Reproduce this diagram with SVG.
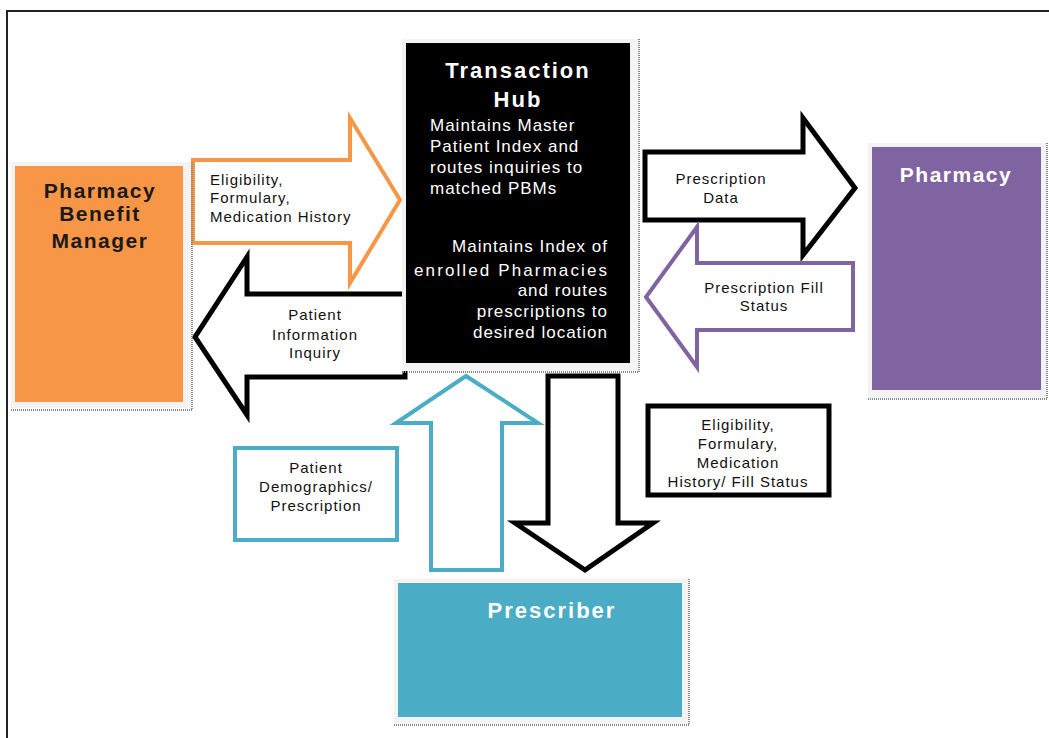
<svg xmlns="http://www.w3.org/2000/svg" width="1049" height="738" viewBox="0 0 1049 738">
<style>
  text { font-family: "Liberation Sans", Arial, sans-serif; }
  .title { font-weight: bold; font-size: 21px; letter-spacing: 1.5px; text-anchor: middle; }
  .lbl { font-size: 15px; letter-spacing: 1px; fill: #111; }
  .hub { font-size: 17px; letter-spacing: 1px; fill: #fff; }
  .shadow { fill: none; stroke: #888; stroke-width: 2; stroke-dasharray: 1 1; }
  .arrow { fill: #fff; stroke-linejoin: miter; }
</style>
<rect x="0" y="0" width="1049" height="738" fill="#fff"/>
<path d="M7,738 V11 H1049" fill="none" stroke="#222" stroke-width="2"/>

<g id="connectors">
  <path class="arrow" d="M193,160 H350 V118 L400,200 L350,283 V243 H193 Z" stroke="#F79646" stroke-width="4"/>
  <path class="arrow" d="M405,294 H247 V257 L195,337 L247,415 V377 H405 Z" stroke="#000" stroke-width="5"/>
  <path class="arrow" d="M645,152 H803 V118 L855,188 L803,255 V220 H645 Z" stroke="#000" stroke-width="5"/>
  <path class="arrow" d="M853,263 H697 V227 L646,297 L697,367 V330 H853 Z" stroke="#8064A2" stroke-width="4"/>
  <path class="arrow" d="M431,570 V423 H396 L466,376 L538,423 H502 V570 Z" stroke="#4BACC6" stroke-width="4"/>
  <path class="arrow" d="M548,376 H618 V523 H653 L585,570 L515,523 H548 Z" stroke="#000" stroke-width="5"/>
  <text class="lbl" x="210" y="185">Eligibility,</text>
  <text class="lbl" x="210" y="203">Formulary,</text>
  <text class="lbl" x="210" y="222">Medication History</text>
  <text class="lbl" x="315" y="320" text-anchor="middle">Patient</text>
  <text class="lbl" x="315" y="340" text-anchor="middle">Information</text>
  <text class="lbl" x="315" y="358" text-anchor="middle">Inquiry</text>
  <text class="lbl" x="721" y="184" text-anchor="middle">Prescription</text>
  <text class="lbl" x="721" y="203" text-anchor="middle">Data</text>
  <text class="lbl" x="764" y="293" text-anchor="middle">Prescription Fill</text>
  <text class="lbl" x="764" y="311" text-anchor="middle">Status</text>
  <g id="label-demographics">
    <rect x="235" y="448" width="162" height="92" fill="#fff" stroke="#4BACC6" stroke-width="4"/>
    <text class="lbl" x="316" y="473" text-anchor="middle">Patient</text>
    <text class="lbl" x="316" y="492" text-anchor="middle">Demographics/</text>
    <text class="lbl" x="316" y="511" text-anchor="middle">Prescription</text>
  </g>
  <g id="label-eligibility">
    <rect x="648" y="406" width="181" height="89" fill="#fff" stroke="#000" stroke-width="5"/>
    <text class="lbl" x="738" y="430" text-anchor="middle">Eligibility,</text>
    <text class="lbl" x="738" y="449" text-anchor="middle">Formulary,</text>
    <text class="lbl" x="738" y="468" text-anchor="middle">Medication</text>
    <text class="lbl" x="738" y="487" text-anchor="middle">History/ Fill Status</text>
  </g>
</g>

<g id="pbm">
  <rect x="11" y="162" width="180" height="246" fill="#f3f3f3"/>
  <path class="shadow" d="M192,162 V410 H10"/>
  <rect x="15" y="166" width="168" height="236" fill="#F79646"/>
  <text class="title" x="100" y="198" fill="#1a1a1a">Pharmacy</text>
  <text class="title" x="100" y="221" fill="#1a1a1a">Benefit</text>
  <text class="title" x="100" y="248" fill="#1a1a1a">Manager</text>
</g>

<g id="hub">
  <rect x="402" y="39" width="236" height="332" fill="#f3f3f3"/>
  <path class="shadow" d="M639,39 V372 H402"/>
  <rect x="406" y="43" width="224" height="320" fill="#000"/>
  <text class="title" x="518" y="78" fill="#fff" style="font-size:22px;letter-spacing:2px">Transaction</text>
  <text class="title" x="518" y="107" fill="#fff" style="font-size:22px;letter-spacing:2px">Hub</text>
  <text class="hub" x="430" y="131">Maintains Master</text>
  <text class="hub" x="430" y="152">Patient Index and</text>
  <text class="hub" x="430" y="173">routes inquiries to</text>
  <text class="hub" x="430" y="194">matched PBMs</text>
  <text class="hub" x="608" y="252" text-anchor="end">Maintains Index of</text>
  <text class="hub" x="414" y="276" textLength="194" lengthAdjust="spacing">enrolled Pharmacies</text>
  <text class="hub" x="608" y="296" text-anchor="end">and routes</text>
  <text class="hub" x="608" y="317" text-anchor="end">prescriptions to</text>
  <text class="hub" x="608" y="338" text-anchor="end">desired location</text>
</g>

<g id="pharmacy">
  <rect x="868" y="143" width="178" height="255" fill="#f3f3f3"/>
  <path class="shadow" d="M1047,143 V399 H868"/>
  <rect x="872" y="147" width="169" height="243" fill="#8064A2"/>
  <text class="title" x="956" y="182" fill="#fff">Pharmacy</text>
</g>

<g id="prescriber">
  <rect x="394" y="579" width="294" height="145" fill="#f3f3f3"/>
  <path class="shadow" d="M689,579 V725 H394"/>
  <rect x="398" y="583" width="284" height="134" fill="#4BACC6"/>
  <text class="title" x="552" y="618" fill="#fff" style="font-size:22px;letter-spacing:2px">Prescriber</text>
</g>
</svg>
